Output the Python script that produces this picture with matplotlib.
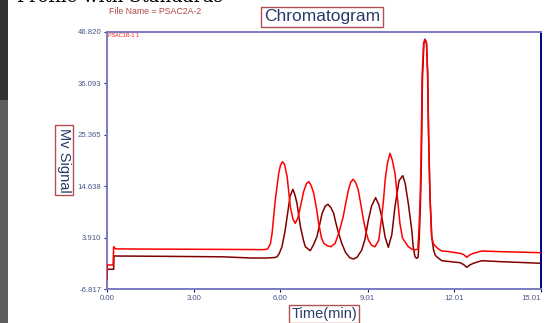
import matplotlib
matplotlib.use("Agg")
import matplotlib.pyplot as plt
from matplotlib.patches import Rectangle

plt.rcParams["font.family"] = ["Liberation Sans", "DejaVu Sans"]

# ---- data ----
red_t = [0.00, 0.01, 0.21, 0.23, 0.30, 2.0, 4.0, 5.40, 5.55, 5.65, 5.71, 5.82, 5.88, 5.94, 6.00,
         6.07, 6.14, 6.23, 6.34, 6.43, 6.51, 6.60, 6.69, 6.80, 6.90, 6.98, 7.06, 7.15, 7.25,
         7.32, 7.42, 7.50, 7.62, 7.75, 7.89, 8.02, 8.17, 8.27, 8.35, 8.43, 8.51, 8.60, 8.69,
         8.78, 8.87, 8.96, 9.04, 9.15, 9.27, 9.40, 9.50, 9.56, 9.62, 9.70, 9.79, 9.87, 9.96,
         10.05, 10.13, 10.22, 10.31, 10.42, 10.55, 10.65, 10.75, 10.79, 10.83, 10.86, 10.90,
         10.95, 11.00, 11.05, 11.09, 11.12, 11.17, 11.23, 11.29, 11.35, 11.45, 11.58, 11.80,
         12.21, 12.33, 12.44, 12.55, 12.67, 12.96, 13.65, 15.01]
red_v = [-4.9, -1.8, -1.8, 2.0, 1.55, 1.5, 1.45, 1.4, 1.5, 2.6, 4.81, 11.76, 14.5, 17.39, 19.0,
         19.75, 19.2, 16.62, 10.36, 7.8, 6.89, 8.0, 10.36, 13.5, 15.2, 15.58, 14.8, 13.15, 9.8,
         6.89, 3.8, 2.72, 2.2, 2.0, 2.72, 4.9, 8.27, 11.5, 13.84, 15.5, 16.08, 15.4, 13.84,
         10.8, 7.58, 5.0, 3.41, 2.3, 2.01, 3.4, 8.27, 11.5, 15.93, 19.5, 21.5, 20.0, 17.33,
         12.0, 6.89, 3.8, 3.0, 2.01, 1.5, 1.32, 1.5, 5.5, 12.0, 19.5, 38.0,
         44.5, 45.3, 44.5, 38.0, 26.0, 12.45, 4.10, 2.6, 2.2, 1.6, 1.11, 1.0,
         0.63, 0.4, -0.2, 0.3, 0.63, 1.11, 0.97, 0.76]

dark_t = [0.00, 0.23, 0.24, 0.30, 2.0, 4.0, 5.0, 5.50, 5.80, 5.88, 5.95, 6.05, 6.15, 6.23,
          6.33, 6.43, 6.50, 6.57, 6.69, 6.80, 6.86, 7.03, 7.15, 7.26, 7.35, 7.44, 7.55, 7.64,
          7.74, 7.84, 7.89, 8.00, 8.12, 8.25, 8.40, 8.52, 8.65, 8.81, 8.92, 9.04, 9.15, 9.29,
          9.40, 9.50, 9.62, 9.73, 9.85, 9.96, 10.10, 10.23, 10.31, 10.42, 10.54, 10.59, 10.65,
          10.71, 10.76, 10.80, 10.84, 10.87, 10.91, 10.96, 11.00, 11.05, 11.09, 11.12, 11.17,
          11.23, 11.29, 11.35, 11.40, 11.58, 12.21, 12.33, 12.44, 12.55, 12.67, 12.96, 13.65,
          15.01]
dark_v = [-2.7, -2.7, 0.1, 0.07, 0.0, -0.1, -0.35, -0.35, -0.25, -0.08, 0.5, 2.01, 5.0, 8.27,
          12.5, 13.99, 12.8, 11.07, 6.18, 3.2, 2.01, 1.18, 2.5, 4.10, 6.5, 8.98, 10.5, 10.86,
          10.2, 8.98, 7.6, 5.0, 2.7, 0.8, -0.3, -0.55, -0.2, 1.32, 3.5, 7.58, 10.5, 12.24,
          10.8, 8.27, 4.0, 1.89, 4.5, 10.36, 15.8, 16.83, 15.3, 11.07, 5.50, 2.01, -0.08,
          -0.41, -0.2, 4.0, 11.0, 19.0, 37.0, 44.5, 45.3, 44.5, 38.0, 26.0, 12.45,
          4.10, 1.5, 0.28, -0.08, -0.91, -1.33, -1.7, -2.29, -1.8, -1.45, -0.91, -1.12,
          -1.45]

y_ticks = [-6.817, 3.910, 14.638, 25.365, 36.093, 46.820]
y_labels = ["-6.817", "3.910", "14.638", "25.365", "36.093", "46.820"]
x_ticks = [0.0, 3.0, 6.0, 9.01, 12.01, 15.01]
x_labels = ["0.00", "3.00", "6.00", "9.01", "12.01", "15.01"]

W, H = 548, 323
fig = plt.figure(figsize=(W / 100, H / 100), dpi=100)
fig.patch.set_facecolor("white")

# screenshot artefacts on the left / top
fig.patches.append(Rectangle((0, 0), 8 / W, 1 - 100 / H, transform=fig.transFigure,
                             facecolor="#5e5e5e", edgecolor="none", zorder=0))
fig.patches.append(Rectangle((0, 1 - 100 / H), 8 / W, 100 / H, transform=fig.transFigure,
                             facecolor="#333333", edgecolor="none", zorder=0))
fig.text(17 / W, 1 - 2 / H, "Profile with Standards", family="DejaVu Serif", fontsize=13,
         color="black", ha="left", va="baseline")

ax = fig.add_axes([107 / W, 1 - 289 / H, (541 - 107) / W, (289 - 32) / H])
ax.plot(dark_t, dark_v, color="#800000", lw=1.1, zorder=2)
ax.plot(red_t, red_v, color="#ff0000", lw=1.1, zorder=3)

ax.set_xlim(0, 15.01)
ax.set_ylim(-6.817, 46.820)
ax.set_xticks(x_ticks)
ax.set_xticklabels(x_labels)
ax.set_yticks(y_ticks)
ax.set_yticklabels(y_labels)
ax.tick_params(axis="both", labelsize=5.6, colors="#1a1a6e", labelcolor="#4a5588",
               length=2, width=0.8, direction="out", pad=2)
ax.get_xticklabels()[-1].set_horizontalalignment("right")

for side in ["left", "bottom", "top"]:
    ax.spines[side].set_color("#7b7bc4")
    ax.spines[side].set_linewidth(1.4)
ax.spines["right"].set_color("#000080")
ax.spines["right"].set_linewidth(1.4)

ax.text(0.003, 0.995, "PSAC1B-1 1", transform=ax.transAxes, fontsize=4, color="#ff2020",
        ha="left", va="top")

box_style = dict(boxstyle="square,pad=0.15", facecolor="white", edgecolor="#b05050", lw=1.0)
fig.text(322 / W, 1 - 17 / H, "Chromatogram", fontsize=12.5, color="#2a3a6a",
         ha="center", va="center", bbox=box_style)
fig.text(109 / W, 1 - 12 / H, "File Name = PSAC2A-2", fontsize=6.3, color="#b04848",
         ha="left", va="center")
fig.text(64 / W, 1 - 160 / H, "Mv Signal", fontsize=10.5, color="#2a3a6a", rotation=270,
         ha="center", va="center", bbox=box_style)
fig.text(324 / W, 1 - 314 / H, "Time(min)", fontsize=10.5, color="#2a3a6a",
         ha="center", va="center", bbox=box_style)

fig.savefig("out.png", dpi=100)
